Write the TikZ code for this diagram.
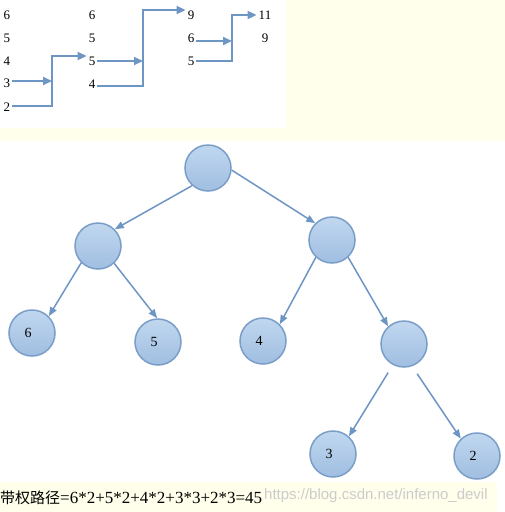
\documentclass[tikz,border=0pt]{standalone}
\usepackage{fontspec}
\setmainfont{Liberation Serif}
\newfontfamily\cjkfont{Noto Sans CJK SC}
\newfontfamily\urlfont{Liberation Sans}
\usetikzlibrary{arrows.meta,calc}
\definecolor{flowblue}{RGB}{110,150,196}
\definecolor{ringblue}{RGB}{122,158,200}
\definecolor{ballhi}{RGB}{192,215,239}
\definecolor{balllo}{RGB}{160,190,225}
\definecolor{paper}{RGB}{255,255,236}
\tikzset{
  num/.style={inner sep=2pt,font=\fontsize{13}{15}\selectfont},
  flow/.style={draw=flowblue,line width=2pt,-{Triangle[length=9pt,width=8pt]}},
  ball/.style={circle,minimum size=46pt,inner sep=0pt,draw=ringblue,line width=1.5pt,
    top color=ballhi,bottom color=balllo},
  every label/.append style={font=\fontsize{14}{16}\selectfont},
  edge/.style={draw=flowblue,line width=1.5pt,-{Triangle[length=9pt,width=7pt]}}
}

\begin{document}
\begin{tikzpicture}[x=1pt,y=-1pt]
\useasboundingbox (0,0) rectangle (505,512);
% Background
\fill[white] (0,0) rectangle (505,512);
\fill[paper] (286,0) rectangle (505,128);
\fill[paper] (0,128) rectangle (505,141);
\fill[paper] (0,482) rectangle (497,512);

% Merge steps
\node[num] (a6) at (7,15) {6};
\node[num] (a5) at (7,38) {5};
\node[num] (a4) at (7,61) {4};
\node[num] (a3) at (7,83) {3};
\node[num] (a2) at (7,107) {2};

\node[num] (b6) at (92,15) {6};
\node[num] (b5x) at (92,38) {5};
\node[num] (b5) at (92,61) {5};
\node[num] (b4) at (92,84) {4};

\node[num] (c9) at (191,15) {9};
\node[num] (c6) at (191,38) {6};
\node[num] (c5) at (191,61) {5};

\node[num] (d11) at (265,15) {11};
\node[num] (d9) at (265,38) {9};

\coordinate (m1) at (52,56);
\coordinate (m2) at (143,10);
\coordinate (m3) at (232,15);

\draw[flow] (a3.east |- 0,81) -- (m1 |- 0,81);
\draw[flow] (a2.east |- 0,106) -| (m1) -- (m1 -| b5.west);
\draw[flow] (b5.east) -- (b5 -| m2);
\draw[flow] (b4.east |- 0,86) -| (m2) -- (m2 -| c9.west);
\draw[flow] (c6.east |- 0,41) -- (m3 |- 0,41);
\draw[flow] (c5.east) -| (m3) -- (m3 -| d11.west);

% Tree
\node[ball] (root) at (208,168) {};
\node[ball] (n1) at (98,246) {};
\node[ball] (n2) at (332,240) {};
\node[ball,label={[xshift=-4pt]center:6}] (l6) at (32,333) {};
\node[ball,label={[xshift=-4pt]center:5}] (l5) at (158,342) {};
\node[ball,label={[xshift=-4pt]center:4}] (l4) at (263,341) {};
\node[ball] (n3) at (404,344) {};
\node[ball,label={[xshift=-4pt]center:3}] (l3) at (333,454) {};
\node[ball,label={[xshift=-4pt]center:2}] (l2) at (477,456) {};

\draw[edge] (root.228) -- (n1.45);
\draw[edge] (root.355) -- (n2.135);
\draw[edge] (n1.225) -- (l6.45);
\draw[edge] (n1.313) -- (l5.92);
\draw[edge] (n2.227) -- (l4.45);
\draw[edge] (n2.313) -- (n3.132);
\draw[edge,shorten <=9pt] (n3.242) -- (l3.48);
\draw[edge,shorten <=9pt] (n3.290) -- (l2.133);

% Sum
\node[anchor=west,inner sep=0pt,text=black!20,font=\urlfont\fontsize{15}{17}\selectfont] (url) at (264,496) {https://blog.csdn.net/inferno\_devil};
\node[anchor=west,inner sep=0pt,font=\fontsize{17}{19}\selectfont] (sum) at (0,498) {{\cjkfont\fontsize{15}{17}\selectfont 带权路径}=6*2+5*2+4*2+3*3+2*3=45};
\end{tikzpicture}
\end{document}
